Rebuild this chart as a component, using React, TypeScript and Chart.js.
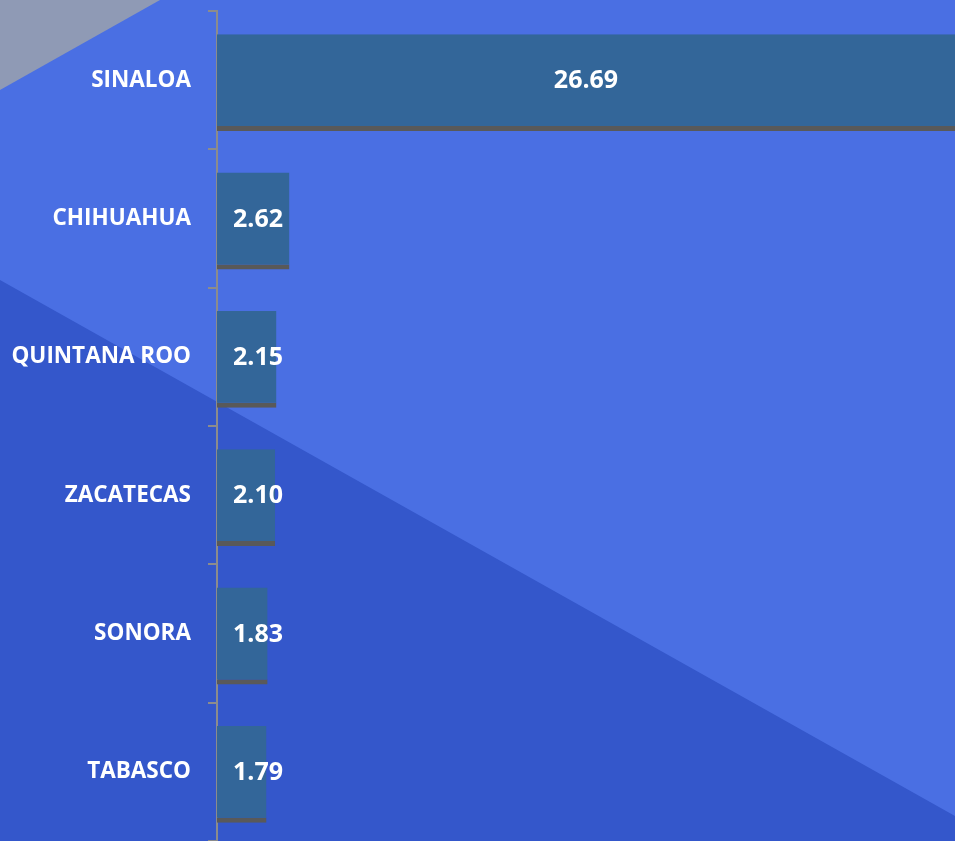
import React, { useEffect, useRef } from "react";
import { Chart, registerables } from "chart.js";

Chart.register(...registerables);

const categories = ["SINALOA", "CHIHUAHUA", "QUINTANA ROO", "ZACATECAS", "SONORA", "TABASCO"];
const values = [26.69, 2.62, 2.15, 2.1, 1.83, 1.79];
const valueLabels = ["26.69", "2.62", "2.15", "2.10", "1.83", "1.79"];

const backgroundPlugin = {
  id: "bgShapes",
  beforeDraw(chart: any) {
    const ctx = chart.ctx;
    const w = chart.width;
    const h = chart.height;
    ctx.save();
    ctx.fillStyle = "#4A6FE3";
    ctx.fillRect(0, 0, w, h);
    ctx.fillStyle = "#8F9AB5";
    ctx.beginPath();
    ctx.moveTo(0, 0);
    ctx.lineTo(160, 0);
    ctx.lineTo(0, 90);
    ctx.closePath();
    ctx.fill();
    ctx.fillStyle = "#3457CB";
    ctx.beginPath();
    ctx.moveTo(0, 280);
    ctx.lineTo(w, 816);
    ctx.lineTo(w, h);
    ctx.lineTo(0, h);
    ctx.closePath();
    ctx.fill();
    ctx.restore();
  },
  beforeDatasetsDraw(chart: any) {
    chart.ctx.save();
    chart.ctx.translate(0, 2.5);
  },
  afterDatasetsDraw(chart: any) {
    chart.ctx.restore();
  },
};

const valueLabelPlugin = {
  id: "valueLabels",
  afterDatasetsDraw(chart: any) {
    const ctx = chart.ctx;
    const meta = chart.getDatasetMeta(0);
    ctx.save();
    ctx.fillStyle = "#FFFFFF";
    ctx.font = "bold 25px 'Open Sans'";
    ctx.textBaseline = "middle";
    meta.data.forEach((bar: any, i: number) => {
      const width = bar.x - bar.base;
      const y = bar.y + 1;
      if (width > 200) {
        ctx.textAlign = "center";
        ctx.fillText(valueLabels[i], (bar.x + bar.base) / 2, y);
      } else {
        ctx.textAlign = "left";
        ctx.fillText(valueLabels[i], bar.base + 16, y);
      }
    });
    ctx.restore();
  },
};

export default function App() {
  const ref = useRef<HTMLCanvasElement | null>(null);
  useEffect(() => {
    if (!ref.current) return;
    const chart = new Chart(ref.current, {
      type: "bar",
      data: {
        labels: categories,
        datasets: [
          {
            data: values,
            backgroundColor: "#336699",
            borderColor: "#595959",
            borderWidth: { top: 0, right: 0, bottom: 5, left: 0 },
            borderSkipped: false,
            categoryPercentage: 0.7,
            barPercentage: 1,
          },
        ],
      },
      options: {
        indexAxis: "y",
        animation: false,
        responsive: false,
        devicePixelRatio: 1,
        layout: { padding: { top: 11, bottom: 0, left: 0, right: 0 } },
        plugins: {
          legend: { display: false },
          tooltip: { enabled: false },
        },
        scales: {
          x: {
            display: false,
            min: 0,
            max: 26.69,
          },
          y: {
            offset: true,
            afterFit(scale: any) {
              scale.width = 217;
              scale.paddingTop = 0;
              scale.paddingBottom = 0;
            },
            grid: {
              display: true,
              offset: true,
              drawOnChartArea: false,
              drawTicks: true,
              tickLength: 9,
              color: "#8C8C8C",
              lineWidth: 2,
            },
            border: { display: true, color: "#8C8C8C", width: 2 },
            ticks: {
              color: "#FFFFFF",
              padding: 17,
              font: { family: "'Open Sans'", weight: "bold", size: 22.5 },
            },
          },
        },
      },
      plugins: [backgroundPlugin, valueLabelPlugin],
    } as any);
    return () => chart.destroy();
  }, []);
  return (
    <div style={{ position: "fixed", left: 0, top: 0, width: 955, height: 841 }}>
      <canvas ref={ref} width={955} height={841} style={{ display: "block" }} />
    </div>
  );
}
